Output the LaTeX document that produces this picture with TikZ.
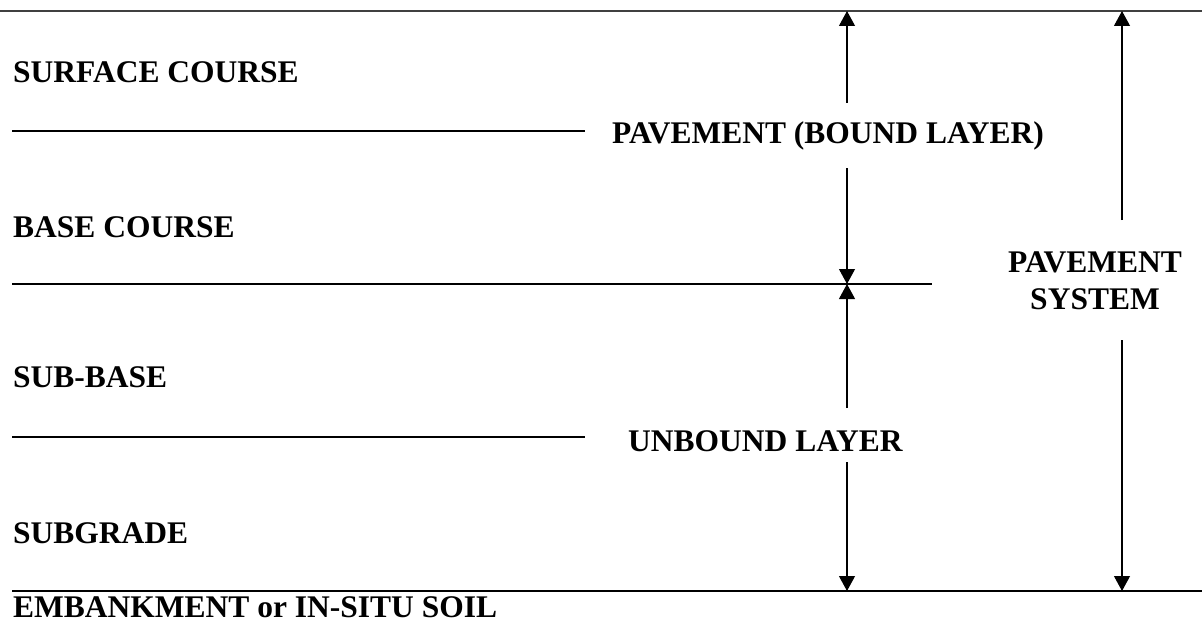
\documentclass[tikz,border=0pt]{standalone}
\usepackage{fontspec}
\setmainfont{Liberation Serif}
\usetikzlibrary{arrows.meta}
\begin{document}
\begin{tikzpicture}[x=1pt,y=-1pt,
  lbl/.style={anchor=base west,inner sep=0pt,font=\fontsize{31.5}{37}\selectfont\bfseries},
  layer/.style={line width=1.4pt,black},
  dim/.style={line width=1.1pt,-{Triangle[width=16pt,length=15pt]}}]
\useasboundingbox (0,0) rectangle (1202,623);
% layer lines
\draw[line width=2pt,black!75] (0,11) -- (1202,11);
\draw[layer] (12,131) -- (585,131);
\draw[layer] (12,284) -- (932,284);
\draw[layer] (12,437) -- (585,437);
\draw[layer] (12,591) -- (1202,591);
% labels
\node[lbl] (surf) at (13,83) {SURFACE COURSE};
\node[lbl] (base) at (13,237) {BASE COURSE};
\node[lbl] (sub) at (13,387) {SUB-BASE};
\node[lbl] (subg) at (13,543) {SUBGRADE};
\node[lbl] (emb) at (13,617) {EMBANKMENT or IN-SITU SOIL};
\node[lbl] (bound) at (612,143) {PAVEMENT (BOUND LAYER)};
\node[lbl] (unb) at (628,451) {UNBOUND LAYER};
\node[anchor=base,inner sep=0pt,align=center,font=\fontsize{31.5}{37}\selectfont\bfseries] (sys) at (1095,309) {PAVEMENT\\SYSTEM};
% arrow coordinates
\coordinate (a1) at (847,103); \coordinate (t1) at (847,11);
\coordinate (a2) at (847,168); \coordinate (t2) at (847,284);
\coordinate (a3) at (847,408); \coordinate (t3) at (847,284);
\coordinate (a4) at (847,462); \coordinate (t4) at (847,591);
\coordinate (b1) at (1122,220); \coordinate (u1) at (1122,11);
\coordinate (b2) at (1122,340); \coordinate (u2) at (1122,591);
\draw[dim] (a1) -- (t1);
\draw[dim] (a2) -- (t2);
\draw[dim] (a3) -- (t3);
\draw[dim] (a4) -- (t4);
\draw[dim] (b1) -- (u1);
\draw[dim] (b2) -- (u2);
\end{tikzpicture}
\end{document}
